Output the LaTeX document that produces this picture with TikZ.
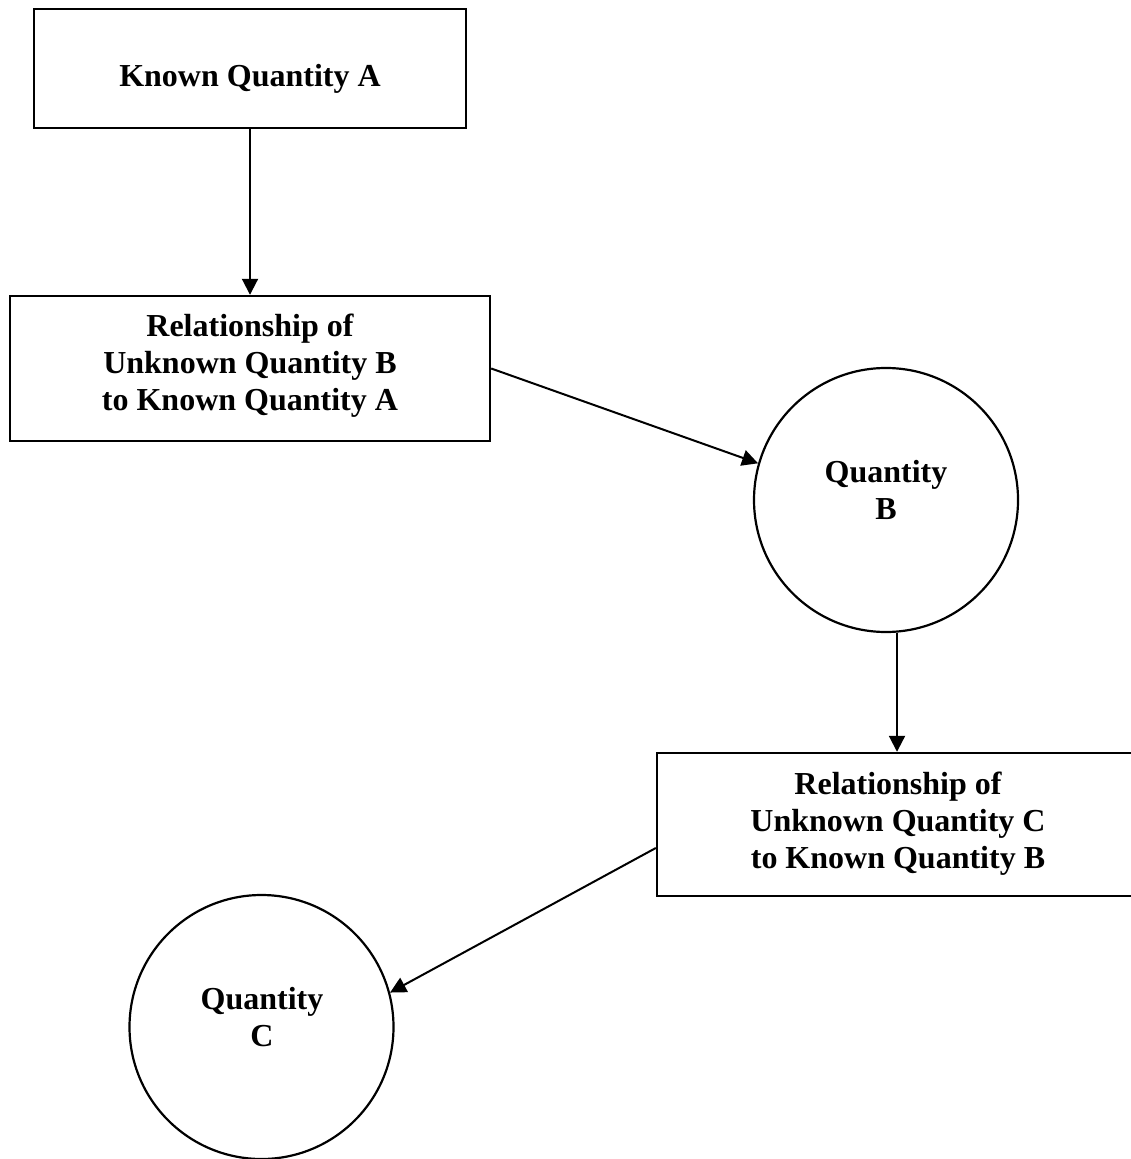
\documentclass[tikz,border=0pt]{standalone}
\usepackage{fontspec}
\setmainfont{Liberation Serif}
\usetikzlibrary{arrows.meta}
\begin{document}
\begin{tikzpicture}[x=0.5pt,y=-0.5pt,
  box/.style={draw,line width=1.2pt,inner sep=0pt,rectangle},
  circ/.style={draw,line width=1.1pt,inner sep=0pt,circle,minimum size=132pt},
  lbl/.style={font=\bfseries\fontsize{16}{18.5}\selectfont,align=center,anchor=base,inner sep=0pt},
  arr/.style={line width=1pt,-{Triangle[length=8pt,width=8pt]}}]
\useasboundingbox (0,0) rectangle (1130,1159);
\node[box,minimum width=216pt,minimum height=59.5pt] (A) at (250,68.5) {};
\node[box,minimum width=240pt,minimum height=72.5pt] (R1) at (250,368.5) {};
\node[circ] (B) at (886,500) {};
\node[box,minimum width=240pt,minimum height=71.5pt] (R2) at (897,824.5) {};
\node[circ] (C) at (261.5,1027) {};
\node[lbl] (tA) at (250,87) {Known Quantity A};
\node[lbl] (tR1) at (250,411) {Relationship of\\Unknown Quantity B\\to Known Quantity A};
\node[lbl] (tB) at (886,519) {Quantity\\B};
\node[lbl] (tR2) at (898,868) {Relationship of\\Unknown Quantity C\\to Known Quantity B};
\node[lbl] (tC) at (262,1046) {Quantity\\C};
\draw[arr] (A.south) -- (R1.north);
\draw[arr] (R1.east) -- (B.164);
\draw[arr] (R2.north |- B.south) -- (R2.north);
\draw[arr] ([yshift=-11.75pt]R2.west) -- (C.15);
\end{tikzpicture}
\end{document}
